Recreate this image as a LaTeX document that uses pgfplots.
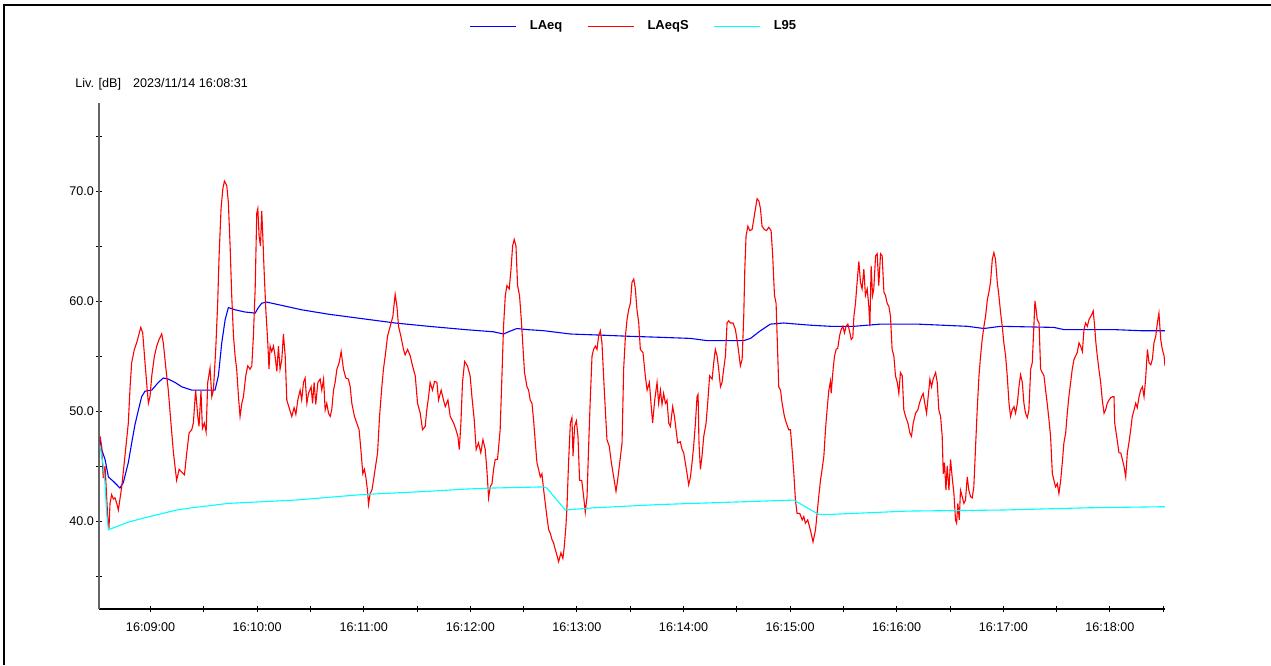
\documentclass[border=0pt]{standalone}
\usepackage{fontspec}
\setmainfont{Liberation Sans}
\usepackage{pgfplots}
\pgfplotsset{compat=1.18}
\definecolor{pblue}{RGB}{0,0,255}
\definecolor{pred}{RGB}{255,0,0}
\definecolor{pcyan}{RGB}{0,255,255}
\begin{document}
\begin{tikzpicture}
\path[use as bounding box] (0,0) rectangle (635.5pt,332.5pt);
\draw[black, line width=1pt] (2pt,0) -- (2pt,330pt) -- (635.5pt,330pt);
\node[anchor=west, font=\fontsize{6.3}{7}\selectfont, inner sep=0pt] at (37.5pt,290.5pt) {Liv. [dB]\hspace{6pt}2023/11/14 16:08:31};
\begin{axis}[
  at={(49.5pt,28pt)}, anchor=south west,
  scale only axis, width=533pt, height=253pt,
  xmin=31, xmax=631, ymin=32, ymax=78,
  axis lines*=left,
  x axis line style={black, line width=0.9pt},
  y axis line style={black!60, line width=0.9pt},
  tick align=center, major tick length=3pt, minor tick length=3pt,
  every tick/.style={black, line width=0.5pt},
  xtick={60,120,...,600},
  xticklabels={16:09:00,16:10:00,16:11:00,16:12:00,16:13:00,16:14:00,16:15:00,16:16:00,16:17:00,16:18:00},
  minor xtick={90,150,...,630},
  ytick={40,50,60,70},
  minor ytick={35,45,...,75},
  yticklabel={\pgfmathprintnumber[fixed,fixed zerofill,precision=1,assume math mode=true]{\tick}},
  ticklabel style={font=\fontsize{6.3}{7}\selectfont},
  xticklabel style={yshift=-2pt},
  yticklabel style={xshift=2.5pt},
  legend style={at={(0.5028,1.152)}, anchor=center, draw=none, fill=none,
    font=\bfseries\fontsize{6.5}{7}\selectfont, legend columns=3,
    /tikz/every odd column/.append style={column sep=4.5pt},
    /tikz/every even column/.append style={column sep=10.5pt}},
  legend image code/.code={\draw[#1] (0pt,0pt) -- (23pt,0pt);},
]
\addplot[pblue, line width=0.55pt] coordinates {
(31.6,47.4)(32.5,46.5)(34.4,45.6)(36.3,44.0)(39.1,43.6)(42.8,43.0)(44.7,43.5)(47.5,45.3)(49.4,47.1)(51.3,48.8)(53.2,50.1)(55.0,51.3)(56.9,51.8)(60.7,51.9)(64.4,52.6)(67.2,53.0)(70.0,52.9)(73.8,52.6)(77.6,52.2)(83.2,51.9)(88.8,51.9)(96.3,51.9)(98.2,53.2)(100.1,56.2)(102.0,58.3)(103.8,59.4)(107.6,59.2)(113.2,59.0)(118.9,58.9)(120.7,59.4)(122.6,59.8)(125.4,59.9)(133.9,59.6)(145.1,59.2)(160.2,58.8)(178.9,58.4)(197.7,58.0)(216.5,57.7)(237.1,57.4)(253.1,57.2)(258.7,57.0)(261.5,57.2)(266.2,57.5)(271.9,57.4)(281.3,57.3)(296.3,57.0)(313.2,56.9)(328.2,56.8)(347.0,56.7)(363.9,56.6)(373.2,56.4)(393.9,56.4)(397.7,56.6)(403.3,57.3)(408.9,57.9)(416.4,58.0)(431.4,57.8)(442.7,57.7)(455.9,57.7)(470.9,57.9)(491.5,57.9)(519.7,57.7)(524.4,57.6)(529.1,57.5)(533.8,57.6)(538.5,57.7)(568.5,57.6)(574.1,57.4)(602.3,57.4)(617.3,57.3)(631.0,57.3)
};
\addlegendentry{LAeq}
\addplot[pred, line width=0.55pt] coordinates {
(31.6,47.7)(32.5,46.8)(33.4,43.9)(34.4,45.0)(35.9,40.4)(36.6,39.3)(37.2,41.6)(38.1,42.4)(39.1,42.0)(40.0,42.1)(41.0,41.6)(41.9,41.0)(42.8,42.0)(43.8,43.1)(45.6,45.9)(47.5,48.9)(48.5,52.2)(49.4,54.4)(50.9,55.6)(52.2,56.2)(53.2,56.8)(54.5,57.6)(55.6,57.1)(56.9,54.4)(57.8,52.6)(58.8,50.7)(59.7,51.3)(60.7,53.2)(62.2,55.0)(63.5,55.9)(64.8,56.5)(66.3,57.0)(67.2,56.2)(68.5,54.1)(70.0,51.9)(71.5,48.9)(72.9,46.2)(74.7,43.7)(76.1,44.7)(77.2,44.5)(79.1,44.2)(80.4,46.2)(81.7,48.0)(83.2,48.3)(84.1,48.9)(85.4,51.9)(86.6,49.5)(87.3,48.6)(88.4,51.8)(89.2,48.4)(90.3,48.9)(91.3,48.1)(92.2,52.6)(93.5,53.9)(94.5,51.3)(95.4,51.9)(96.7,55.6)(97.8,59.8)(98.6,64.1)(99.7,68.4)(100.7,70.2)(101.6,70.9)(102.9,70.5)(103.8,69.0)(104.8,65.0)(105.7,60.5)(106.7,56.8)(107.6,55.0)(108.5,53.8)(109.5,51.3)(110.4,49.5)(111.4,50.7)(112.3,51.3)(113.6,53.2)(114.7,54.1)(116.0,53.8)(117.0,54.1)(117.9,56.8)(118.9,61.1)(119.8,68.0)(120.4,68.4)(121.1,65.9)(121.9,65.0)(122.6,68.2)(123.2,65.9)(123.9,62.9)(124.9,59.2)(126.0,56.2)(126.7,53.8)(127.3,55.9)(128.2,55.4)(129.2,55.9)(130.1,55.0)(131.1,53.6)(132.0,55.9)(132.9,53.8)(133.9,54.7)(134.8,57.0)(135.8,55.0)(136.7,51.0)(138.0,50.3)(139.5,49.5)(140.8,50.3)(141.8,49.7)(142.9,51.0)(144.2,51.9)(145.1,51.0)(146.1,52.6)(147.0,53.0)(148.0,50.7)(148.9,51.6)(150.4,52.2)(151.2,50.7)(152.1,52.6)(153.0,50.6)(154.2,52.6)(155.5,52.9)(156.4,51.9)(157.4,52.9)(158.3,50.1)(159.2,50.7)(160.2,49.8)(161.1,49.5)(162.0,50.1)(163.0,51.9)(163.9,52.6)(164.9,53.8)(166.2,54.4)(167.3,55.4)(168.6,53.8)(169.9,53.0)(171.4,52.9)(172.4,52.2)(173.3,50.7)(174.8,49.5)(176.1,48.9)(177.4,48.3)(178.4,46.5)(179.5,44.3)(180.4,44.7)(181.2,44.0)(182.1,42.8)(182.7,41.5)(183.6,42.5)(184.6,42.8)(185.5,43.7)(186.4,44.7)(187.8,46.2)(188.9,49.5)(190.2,52.2)(191.1,53.8)(192.1,55.0)(193.4,56.8)(194.9,57.7)(196.4,58.6)(197.7,60.6)(198.7,59.5)(199.6,57.7)(200.9,56.8)(202.4,55.6)(203.3,55.1)(204.7,55.6)(206.2,55.0)(207.5,54.1)(209.0,53.2)(210.3,50.7)(211.8,49.8)(213.1,48.3)(214.6,48.6)(215.5,50.1)(216.5,51.3)(217.4,52.6)(218.7,51.9)(219.9,52.7)(221.2,52.6)(222.1,51.0)(223.6,51.9)(224.9,51.0)(225.9,50.4)(227.4,51.0)(228.7,49.5)(230.6,48.9)(231.9,48.3)(233.0,47.7)(233.8,46.5)(234.7,48.9)(235.6,52.6)(236.8,54.5)
(238.4,54.1)(239.9,53.2)(240.9,51.3)(242.2,49.2)(243.3,46.5)(244.6,47.1)(245.9,46.2)(247.1,47.4)(248.4,46.5)(249.3,44.7)(250.3,42.1)(251.2,43.1)(252.2,43.4)(253.1,44.7)(254.0,45.6)(255.3,45.6)(256.8,48.3)(257.8,53.2)(258.7,57.7)(259.7,60.5)(260.6,61.4)(261.9,61.1)(262.9,62.9)(263.8,65.0)(264.7,65.6)(265.7,65.0)(266.6,61.4)(267.7,60.5)(268.7,58.3)(269.6,55.9)(270.5,53.5)(271.9,52.2)(272.8,51.9)(273.7,51.0)(274.7,50.7)(275.6,49.2)(276.6,47.1)(277.5,45.3)(278.4,44.7)(279.4,44.0)(280.3,44.3)(281.3,42.8)(282.2,41.6)(283.1,40.4)(284.1,39.2)(285.0,38.9)(286.0,38.3)(286.9,38.0)(287.3,37.7)(288.4,37.1)(289.7,36.3)(291.0,37.1)(292.1,36.6)(292.9,37.7)(293.8,39.5)(294.4,41.3)(295.3,45.3)(296.3,48.9)(297.2,49.4)(297.8,45.9)(298.7,48.6)(299.7,49.1)(300.6,47.7)(301.5,43.7)(302.7,43.7)(303.8,42.2)(304.7,40.8)(305.7,42.2)(306.6,46.8)(307.5,51.0)(308.5,55.0)
(309.4,55.6)(310.4,55.9)(311.3,55.6)(312.2,56.8)(313.2,57.3)(314.1,56.2)(315.0,53.2)(316.0,50.1)(316.9,47.4)(318.2,46.8)(319.4,45.3)(320.7,44.0)(322.0,42.7)(322.9,43.7)(324.1,45.3)(325.4,47.1)(326.3,53.8)(327.3,56.8)(328.2,58.3)(329.1,59.2)(330.1,59.8)(331.0,61.7)(332.0,62.0)(332.9,61.1)(333.8,59.2)(334.8,58.0)(335.7,55.6)(337.2,55.3)(338.5,53.2)(339.5,51.9)(340.8,52.6)(341.7,50.7)(342.6,48.9)(343.8,51.0)(345.1,52.6)(346.0,50.7)(347.0,51.9)(347.9,50.6)(348.8,51.6)(349.8,50.7)(350.7,51.0)(351.7,48.9)(352.6,48.6)(353.9,50.4)(354.9,49.5)(355.8,48.3)(356.7,47.1)(358.2,47.2)(359.2,46.5)(360.1,46.2)(361.0,45.3)(362.0,44.3)(362.9,43.3)(363.9,44.0)(364.8,45.3)(365.7,46.8)(366.7,48.9)(367.6,51.3)(368.2,51.5)(368.7,47.1)(369.5,44.7)(370.4,45.9)(371.4,47.7)(372.7,48.9)(373.6,50.7)(374.7,53.2)(376.1,52.9)(377.0,54.4)(377.9,55.6)(378.9,55.0)(379.8,53.8)(380.8,52.2)(381.7,52.6)(382.6,53.8)(383.6,55.0)(384.5,58.0)(385.4,58.2)(386.4,58.0)(387.9,58.0)(389.2,57.4)(390.1,56.5)(391.1,55.3)(392.0,54.1)(393.0,54.7)(393.9,58.6)(394.5,62.9)(395.2,65.9)(396.2,66.8)(397.3,66.4)(398.6,66.5)(399.5,67.4)(400.5,68.4)(401.4,69.3)(402.4,69.1)(403.3,68.4)(404.2,66.8)(405.5,66.5)(406.7,66.4)(408.0,66.7)(409.3,66.4)(410.2,64.1)(411.2,60.5)(412.1,59.8)(412.7,56.8)(413.6,52.2)(414.6,51.9)(415.5,50.7)(416.8,49.5)(417.9,48.9)(419.2,48.3)(420.2,48.3)(421.1,46.5)(422.1,44.3)(423.0,41.9)(423.9,40.7)(425.4,40.7)(426.8,40.1)(427.7,40.4)(428.6,39.8)(429.9,40.1)(430.9,39.5)(431.8,38.9)(432.9,38.1)(434.3,39.2)(435.2,40.7)(436.1,42.2)(437.1,43.7)(438.0,44.7)(439.0,45.9)(439.9,48.3)(440.8,50.1)(441.8,51.9)(442.7,52.7)(443.1,51.6)(444.2,53.8)(445.0,55.0)(445.9,55.6)(446.8,55.7)(447.8,56.8)(448.7,57.4)(449.7,57.7)(450.6,57.1)(451.5,57.7)(452.5,57.9)(453.4,57.3)(454.4,56.5)(455.3,56.7)(455.9,58.6)(456.8,59.8)(457.7,61.7)(458.7,63.6)(459.6,61.7)(460.5,61.1)(461.5,62.9)(462.4,60.5)(463.4,61.1)(464.3,59.5)(464.9,57.7)(465.6,63.2)(466.4,60.5)(467.1,61.1)(468.1,64.1)(469.0,64.3)(469.9,61.4)(470.9,64.3)(471.8,64.1)(472.8,60.8)(473.7,60.5)(474.6,59.8)(475.6,59.5)(476.5,58.6)(477.4,55.6)(478.4,55.0)(479.3,53.2)(480.3,52.6)(481.2,51.6)(482.1,53.5)(483.1,53.2)(484.0,50.1)(485.0,49.5)(486.3,48.9)(487.4,48.0)(488.3,47.7)(489.3,48.9)(490.6,49.8)(491.9,50.1)(492.8,50.7)(494.0,51.3)(494.9,51.6)(495.8,50.7)(496.8,49.8)(497.7,51.3)(498.7,52.9)(499.6,52.2)(500.5,52.9)(501.9,53.5)(502.8,52.6)(503.7,50.1)(504.7,49.5)(505.6,47.7)(506.2,44.3)(506.9,45.3)(507.7,42.8)(508.4,45.0)(509.4,42.8)(510.3,45.6)(511.2,44.0)(512.2,42.5)(513.1,40.1)(513.7,39.8)(514.4,41.6)(515.2,40.1)(515.9,42.8)(516.9,42.2)(517.8,41.6)(518.7,41.9)(519.7,44.0)(520.6,42.8)(521.6,42.2)(522.5,42.1)(523.4,43.1)(524.4,46.8)(525.3,50.1)(526.3,53.2)(527.2,55.0)(528.1,56.5)(529.1,57.7)(530.0,58.6)(531.0,60.1)(531.9,60.8)(532.8,61.7)(533.8,63.8)(534.7,64.4)(535.6,63.8)(536.6,61.7)(537.5,60.5)(538.5,58.9)(539.4,57.7)(540.3,56.2)(541.3,55.0)(542.2,53.2)(543.2,50.7)(544.1,49.5)(545.0,50.1)(546.0,50.4)(546.9,49.8)(547.9,50.7)(548.8,52.2)(549.7,53.3)(550.7,52.6)(551.6,50.7)(552.5,49.8)(553.5,49.4)(554.4,50.1)(555.4,53.8)(556.3,54.4)(557.2,57.7)(557.8,60.0)(558.5,59.2)(559.1,58.3)(560.1,58.0)(561.0,53.8)(561.9,53.5)(562.9,53.2)(563.8,51.9)(564.7,50.7)(565.7,49.2)(566.6,47.7)(567.6,44.3)(568.5,43.7)(569.4,43.1)(570.4,43.4)(571.3,42.5)(572.3,43.7)(573.2,45.3)(574.1,47.1)(575.1,48.0)(576.0,49.8)(576.9,51.3)(577.9,52.6)(578.8,53.8)(579.8,54.7)(580.7,55.0)(581.6,55.3)(582.6,56.2)(583.5,55.9)(584.5,55.4)(585.4,57.4)(586.3,58.0)(587.3,57.7)(588.2,58.3)(589.2,58.6)(590.1,58.9)(590.6,59.1)(591.4,57.7)(592.1,56.2)(592.9,55.0)(593.8,53.8)(594.8,52.6)(595.7,51.0)(596.7,49.8)(597.6,50.1)(598.5,50.7)(599.5,51.0)(600.4,51.2)(601.4,51.3)(602.3,51.3)(602.7,48.9)(603.8,47.7)(605.1,46.2)(606.1,46.2)(607.0,45.6)(607.9,45.0)(608.9,44.0)(609.8,46.2)(610.7,47.1)(611.7,48.3)(612.6,49.5)(613.6,50.1)(614.5,50.7)(615.4,50.3)(616.4,51.3)(617.3,51.9)(618.3,52.2)(619.2,51.3)(620.1,52.9)(621.1,55.6)(622.0,54.4)(623.0,54.2)(623.9,54.7)(624.8,56.2)(625.8,56.8)(626.7,58.0)(627.6,58.9)(628.6,56.5)(629.5,55.6)(630.5,55.0)(631.0,54.1)
};
\addlegendentry{LAeqS}
\addplot[pcyan, line width=0.55pt] coordinates {
(31.6,46.8)(33.4,45.0)(34.4,43.4)(35.3,40.7)(36.3,39.2)(47.5,39.9)(56.9,40.3)(74.7,41.0)(83.2,41.2)(103.8,41.6)(141.4,41.9)(178.9,42.4)(216.5,42.7)(237.1,42.9)(253.1,43.0)(281.3,43.1)(283.1,43.0)(293.5,41.0)(309.4,41.2)(347.0,41.5)(384.5,41.7)(422.1,41.9)(436.1,40.6)(442.7,40.6)(485.9,40.9)(540.3,41.0)(587.3,41.2)(631.0,41.3)
};
\addlegendentry{L95}
\end{axis}
\end{tikzpicture}
\end{document}
